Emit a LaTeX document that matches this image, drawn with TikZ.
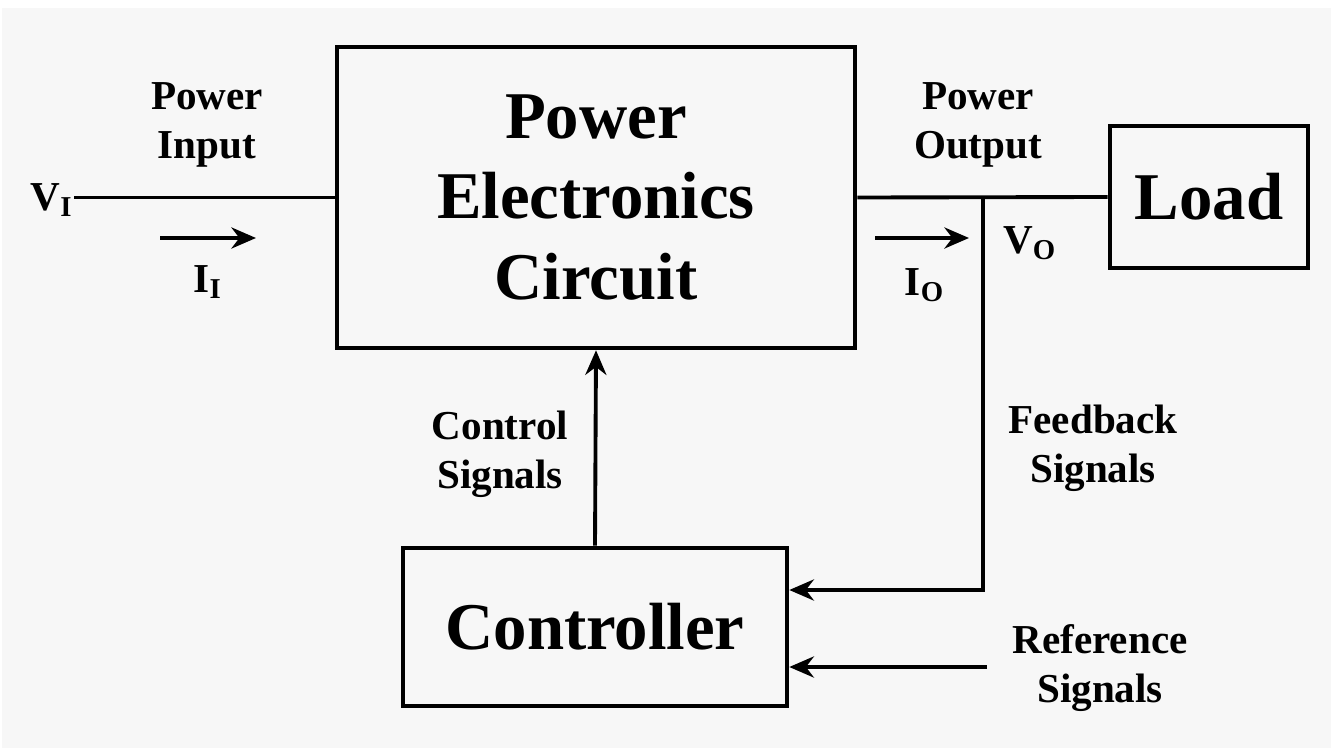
\documentclass[tikz,border=0pt]{standalone}
\usepackage{fontspec}
\setmainfont{Liberation Serif}
\usetikzlibrary{arrows.meta}
\definecolor{paperBg}{RGB}{247,247,247}
\tikzset{
  blk/.style={draw, line width=1.3pt, minimum width=#1, inner sep=0pt,
              font=\bfseries\fontsize{19}{22.8}\selectfont, align=center},
  lbl/.style={font=\bfseries\fontsize{11.7}{14}\selectfont, align=center, inner sep=0pt},
  wire/.style={line width=1.1pt},
  sig/.style={line width=1.1pt, -{Stealth[length=7pt,width=6pt]}},
}
\begin{document}
\begin{tikzpicture}[x=1cm,y=1cm]
% background
\fill[white] (0,0) rectangle (13.31,-7.48);
\fill[paperBg] (0.02,-0.08) rectangle (13.31,-7.48);
\useasboundingbox (0,0) rectangle (13.31,-7.48);
% blocks
\node[blk=5.18cm, minimum height=3.01cm] (pec) at (5.96,-1.975) {Power\\Electronics\\Circuit};
\node[blk=1.98cm, minimum height=1.42cm] (load) at (12.09,-1.97) {Load};
\node[blk=3.84cm, minimum height=1.58cm] (ctrl) at (5.95,-6.27) {Controller};
% labels
\node[lbl] (vin) at (0.52,-2.00) {V\textsubscript{I}};
\node[lbl] (pin) at (2.07,-1.25) {Power\\Input};
\node[lbl] (iin) at (2.08,-2.82) {I\textsubscript{I}};
\node[lbl] (pout) at (9.78,-1.25) {Power\\Output};
\node[lbl] (iout) at (9.25,-2.85) {I\textsubscript{O}};
\node[lbl] (vout) at (10.30,-2.43) {V\textsubscript{O}};
\node[lbl] (csig) at (5.00,-4.54) {Control\\Signals};
\node[lbl] (fsig) at (10.93,-4.48) {Feedback\\Signals};
\node[lbl] (rsig) at (11.00,-6.68) {Reference\\Signals};
% points
\coordinate (fb) at (9.83,-1.97);
\coordinate (ref) at (9.87,-6.67);
\coordinate (ii1) at (1.60,-2.38);
\coordinate (ii2) at (2.56,-2.38);
\coordinate (io1) at (8.75,-2.38);
\coordinate (io2) at (9.69,-2.38);
% connectors
\draw[wire] (vin.east |- pec.west) -- (pec.west);
\draw[wire] (pec.east) -- (load.west);
\draw[sig] (ii1) -- (ii2);
\draw[sig] (io1) -- (io2);
\draw[sig] (fb) |- ([yshift=0.37cm]ctrl.east);
\draw[sig] (ref) -- ([yshift=-0.40cm]ctrl.east);
\draw[sig] (ctrl.north) -- (pec.south);
\end{tikzpicture}
\end{document}
